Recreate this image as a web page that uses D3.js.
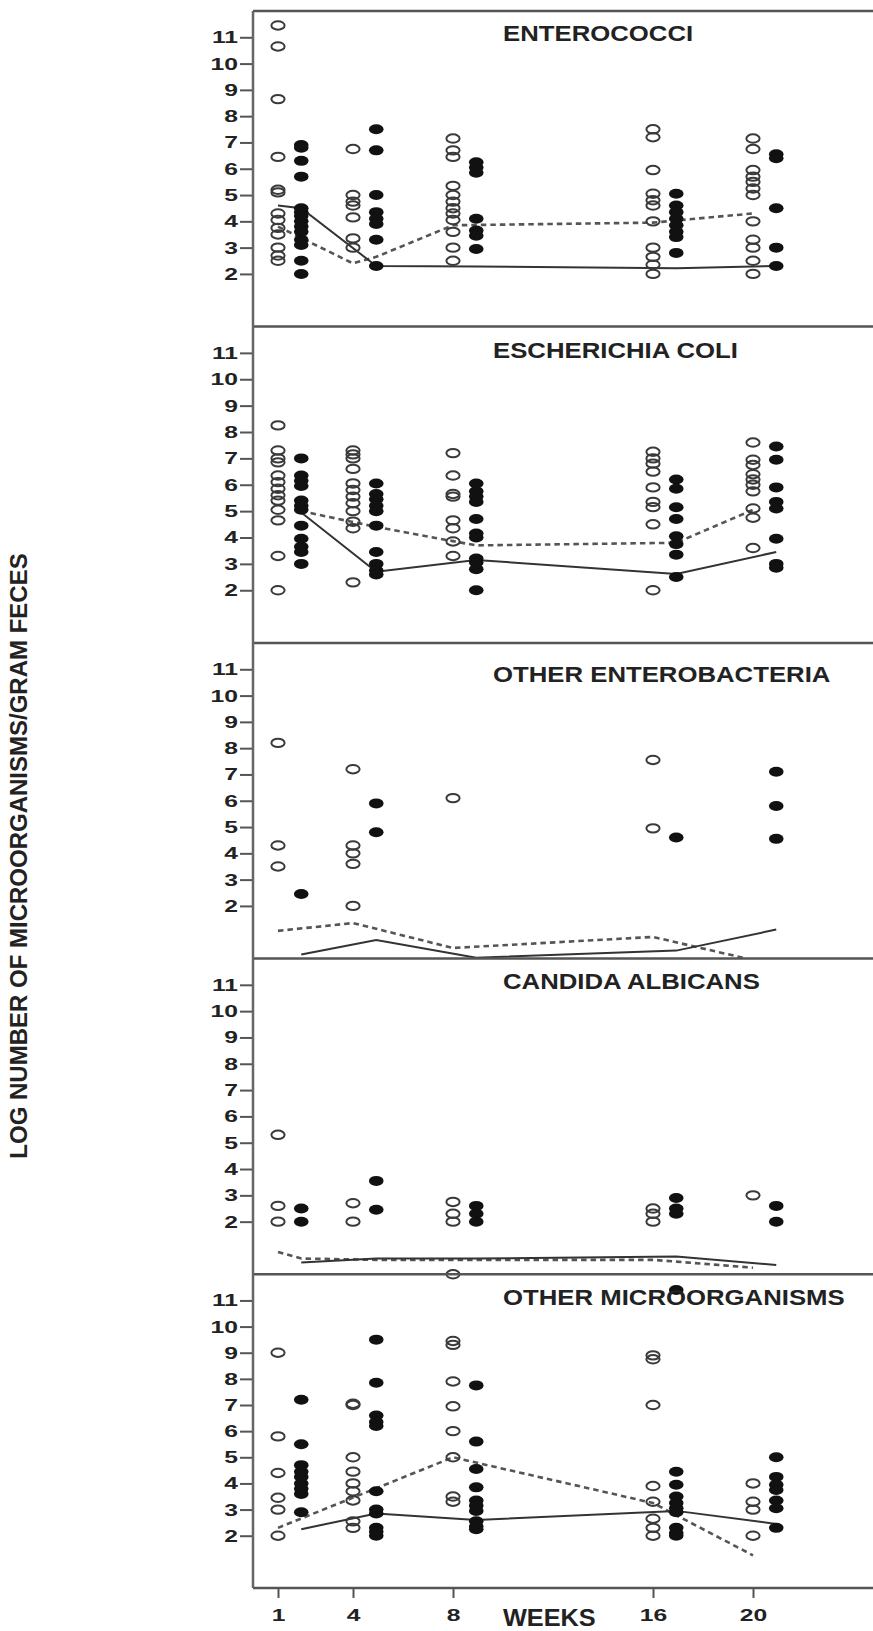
<!DOCTYPE html>
<html>
<head>
<meta charset="utf-8">
<script src="https://cdn.jsdelivr.net/npm/d3@7"></script>
<style>
  body { margin: 0; background: #fff; }
  svg { display: block; font-family: "Liberation Sans", Arial, sans-serif; }
</style>
</head>
<body>
<div id="chart"></div>
<script>
// weeks on the x axis
const weeks = [1, 4, 8, 16, 20];
const yTicks = [2, 3, 4, 5, 6, 7, 8, 9, 10, 11];
const panelNames = ["ENTEROCOCCI", "ESCHERICHIA COLI", "OTHER ENTEROBACTERIA", "CANDIDA ALBICANS", "OTHER MICROORGANISMS"];

// open circles / filled dots : one list per week (1, 4, 8, 16, 20)
const enterococciOpen = [
  [11.45, 10.65, 8.65, 6.45, 5.2, 5.1, 4.3, 4.05, 3.75, 3.5, 3.0, 2.7, 2.5],
  [6.75, 5.0, 4.75, 4.6, 4.15, 3.35, 3.0],
  [7.15, 6.7, 6.45, 5.35, 5.0, 4.75, 4.5, 4.3, 4.05, 3.6, 3.0, 2.5],
  [7.5, 7.2, 5.95, 5.05, 4.8, 4.6, 4.0, 3.0, 2.65, 2.35, 2.0],
  [7.15, 6.75, 5.95, 5.7, 5.5, 5.25, 5.0, 4.0, 3.3, 3.0, 2.5, 2.0]
];
const enterococciFilled = [
  [6.9, 6.8, 6.3, 5.7, 4.5, 4.35, 4.2, 4.0, 3.8, 3.6, 3.3, 3.1, 2.5, 2.0],
  [7.5, 6.7, 5.0, 4.35, 4.1, 3.9, 3.3, 2.3],
  [6.25, 6.05, 5.85, 4.1, 3.65, 3.45, 2.95],
  [5.05, 4.6, 4.35, 4.1, 3.85, 3.6, 3.4, 2.8],
  [6.55, 6.4, 4.5, 3.0, 2.3]
];
const coliOpen = [
  [8.25, 7.3, 7.0, 6.85, 6.35, 6.1, 5.85, 5.6, 5.4, 5.05, 4.65, 3.3, 2.0],
  [7.3, 7.15, 7.0, 6.6, 6.05, 5.8, 5.55, 5.3, 5.0, 4.6, 4.35, 2.3],
  [7.2, 6.35, 5.65, 5.55, 4.65, 4.35, 3.85, 3.3],
  [7.25, 7.0, 6.8, 6.5, 5.9, 5.35, 5.15, 4.5, 2.0],
  [7.6, 6.95, 6.75, 6.4, 6.2, 6.0, 5.75, 5.1, 4.75, 3.6]
];
const coliFilled = [
  [7.0, 6.35, 6.15, 5.95, 5.4, 5.2, 5.05, 4.45, 3.95, 3.65, 3.45, 3.0],
  [6.05, 5.65, 5.45, 5.2, 5.0, 4.45, 3.45, 3.0, 2.75, 2.6],
  [6.05, 5.75, 5.55, 5.35, 4.7, 4.15, 4.0, 3.2, 3.05, 2.8, 2.0],
  [6.2, 5.85, 5.15, 4.7, 4.05, 3.75, 3.35, 2.5],
  [7.45, 6.95, 5.9, 5.35, 5.1, 3.95, 3.0, 2.85]
];
const enteroOpen = [[8.2, 4.3, 3.5], [7.2, 4.3, 4.0, 3.6, 2.0], [6.1], [7.55, 4.95], []];
const enteroFilled = [[2.45], [5.9, 4.8], [], [4.6], [7.1, 5.8, 4.55]];
const candidaOpen = [[5.3, 2.6, 2.0], [2.7, 2.0], [2.75, 2.3, 2.0], [2.5, 2.3, 2.0], [3.0]];
const candidaFilled = [[2.5, 2.0], [3.55, 2.45], [2.6, 2.3, 2.0], [2.9, 2.5, 2.3], [2.6, 2.0]];
const otherOpen = [
  [9.0, 5.8, 4.4, 3.45, 3.0, 2.0],
  [7.05, 7.0, 5.0, 4.45, 4.0, 3.7, 3.35, 2.55, 2.3],
  [12.0, 9.45, 9.3, 7.9, 6.95, 6.0, 5.0, 3.5, 3.3],
  [8.9, 8.75, 7.0, 3.9, 3.3, 2.65, 2.3, 2.0],
  [4.0, 3.3, 3.0, 2.0]
];
const otherFilled = [
  [7.2, 5.5, 4.7, 4.45, 4.25, 4.0, 3.8, 3.6, 2.9],
  [9.5, 7.85, 6.6, 6.35, 6.2, 3.7, 3.0, 2.85, 2.3, 2.15, 2.0],
  [7.75, 5.6, 4.55, 3.85, 3.35, 3.15, 2.95, 2.55, 2.35, 2.25],
  [11.4, 4.45, 3.95, 3.5, 3.25, 3.05, 2.9, 2.3, 2.1, 2.0],
  [5.0, 4.25, 3.95, 3.75, 3.35, 3.05, 2.3]
];

// median lines as [week, value]; week + 0.93 sits on the filled column
const enterococciDashed = [[1, 3.8], [4, 2.4], [4.93, 2.65], [8, 3.85], [16, 3.95], [20, 4.3]];
const enterococciSolid = [[1, 4.6], [1.93, 4.5], [4.93, 2.3], [8.93, 2.28], [16.93, 2.22], [20.93, 2.3]];
const coliDashed = [[1.93, 5.0], [4.93, 4.4], [8.93, 3.7], [16.93, 3.8], [20, 5.05]];
const coliSolid = [[1.93, 4.95], [4.93, 2.7], [8.93, 3.15], [16.93, 2.62], [20.93, 3.45]];
const enteroDashed = [[1, 1.05], [4, 1.35], [8, 0.4], [16, 0.82], [19.6, 0.03]];
const enteroSolid = [[1.93, 0.15], [4.93, 0.7], [8.93, 0.03], [16.93, 0.3], [20.93, 1.1]];
const candidaDashed = [[1, 0.85], [1.93, 0.6], [4.93, 0.55], [16, 0.55], [20, 0.25]];
const candidaSolid = [[1.93, 0.45], [4.93, 0.6], [8.93, 0.6], [16.93, 0.68], [20.93, 0.35]];
const otherDashed = [[1, 2.3], [8, 5.0], [16, 3.25], [20, 1.25]];
const otherSolid = [[1.93, 2.25], [4.93, 2.85], [8.93, 2.6], [16.93, 2.95], [20.93, 2.45]];

const panels = [
  { name: panelNames[0], open: enterococciOpen, filled: enterococciFilled, dashed: enterococciDashed, solid: enterococciSolid },
  { name: panelNames[1], open: coliOpen, filled: coliFilled, dashed: coliDashed, solid: coliSolid },
  { name: panelNames[2], open: enteroOpen, filled: enteroFilled, dashed: enteroDashed, solid: enteroSolid },
  { name: panelNames[3], open: candidaOpen, filled: candidaFilled, dashed: candidaDashed, solid: candidaSolid },
  { name: panelNames[4], open: otherOpen, filled: otherFilled, dashed: otherDashed, solid: otherSolid }
];

// layout
const width = 873, height = 1631;
const left = 253, right = 873;
const panelTops = [11, 326.5, 643, 958.5, 1274.3];
const plotBottom = 1588;
const titleX = [503, 493, 493, 503, 503];
const titleY = [40.7, 358.3, 681.7, 989, 1305];
const filledShift = 0.93;
const ink = "#222";

const svg = d3.select("#chart").append("svg")
  .attr("width", width)
  .attr("height", height);

const x = d3.scaleLinear().domain([0, 24.8]).range([left, right]);

panels.forEach((p, i) => {
  const top = panelTops[i];
  const bottom = i < 4 ? panelTops[i + 1] : plotBottom;
  const y = d3.scaleLinear().domain([0, 12]).range([bottom, top]);
  const g = svg.append("g");

  // y axis ticks and labels
  const axis = g.append("g")
    .attr("transform", `translate(${left},0)`)
    .call(d3.axisLeft(y).tickValues(yTicks).tickSize(13).tickPadding(2).tickFormat(d3.format("d")));
  axis.select(".domain").remove();
  axis.selectAll(".tick line").attr("stroke", "#555").attr("stroke-width", 2);
  axis.selectAll(".tick text")
    .attr("x", null)
    .attr("transform", "translate(-15,0) scale(1.45,1)")
    .attr("fill", ink)
    .style("font-size", "17px")
    .style("font-weight", "bold");

  // median lines
  const line = d3.line().x(d => x(d[0])).y(d => y(d[1]));
  g.append("path").datum(p.dashed)
    .attr("d", line)
    .attr("fill", "none")
    .attr("stroke", "#555")
    .attr("stroke-width", 2.6)
    .attr("stroke-dasharray", "5.5,4");
  g.append("path").datum(p.solid)
    .attr("d", line)
    .attr("fill", "none")
    .attr("stroke", "#333")
    .attr("stroke-width", 2);

  // points
  const openPts = [], filledPts = [];
  weeks.forEach((w, k) => {
    p.open[k].forEach(v => openPts.push({ w: w, v: v }));
    p.filled[k].forEach(v => filledPts.push({ w: w + filledShift, v: v }));
  });
  g.selectAll("ellipse.open").data(openPts).enter().append("ellipse")
    .attr("class", "open")
    .attr("cx", d => x(d.w))
    .attr("cy", d => y(d.v))
    .attr("rx", 6.6)
    .attr("ry", 4.2)
    .attr("fill", "none")
    .attr("stroke", "#3a3a3a")
    .attr("stroke-width", 2);
  g.selectAll("ellipse.filled").data(filledPts).enter().append("ellipse")
    .attr("class", "filled")
    .attr("cx", d => x(d.w))
    .attr("cy", d => y(d.v))
    .attr("rx", 7.3)
    .attr("ry", 5)
    .attr("fill", "#111");

  // panel title
  g.append("text")
    .attr("transform", `translate(${titleX[i]},${titleY[i]}) scale(1.17,1)`)
    .attr("fill", ink)
    .style("font-size", "22px")
    .style("font-weight", "bold")
    .text(p.name);

  // top border of each panel
  g.append("line")
    .attr("x1", left).attr("x2", right)
    .attr("y1", top).attr("y2", top)
    .attr("stroke", "#555").attr("stroke-width", 2.5);
});

// bottom axis
const xAxis = svg.append("g")
  .attr("transform", `translate(0,${plotBottom})`)
  .call(d3.axisBottom(x).tickValues(weeks).tickSize(10).tickPadding(11).tickFormat(d3.format("d")));
xAxis.select(".domain").remove();
xAxis.selectAll(".tick line").attr("stroke", "#555").attr("stroke-width", 2);
xAxis.selectAll(".tick text")
  .attr("transform", "scale(1.45,1)")
  .attr("fill", ink)
  .style("font-size", "17px")
  .style("font-weight", "bold");

svg.append("line")
  .attr("x1", left).attr("x2", right)
  .attr("y1", plotBottom).attr("y2", plotBottom)
  .attr("stroke", "#555").attr("stroke-width", 2.5);
svg.append("line")
  .attr("x1", left).attr("x2", left)
  .attr("y1", panelTops[0]).attr("y2", plotBottom)
  .attr("stroke", "#666").attr("stroke-width", 2.5);

svg.append("text")
  .attr("transform", `translate(503,1625.7) scale(1.1,1)`)
  .attr("fill", ink)
  .style("font-size", "23px")
  .style("font-weight", "bold")
  .text("WEEKS");

svg.append("text")
  .attr("transform", "translate(27,856) rotate(-90)")
  .attr("text-anchor", "middle")
  .attr("fill", ink)
  .style("font-size", "24px")
  .style("font-weight", "bold")
  .text("LOG NUMBER OF MICROORGANISMS/GRAM FECES");
</script>
</body>
</html>
